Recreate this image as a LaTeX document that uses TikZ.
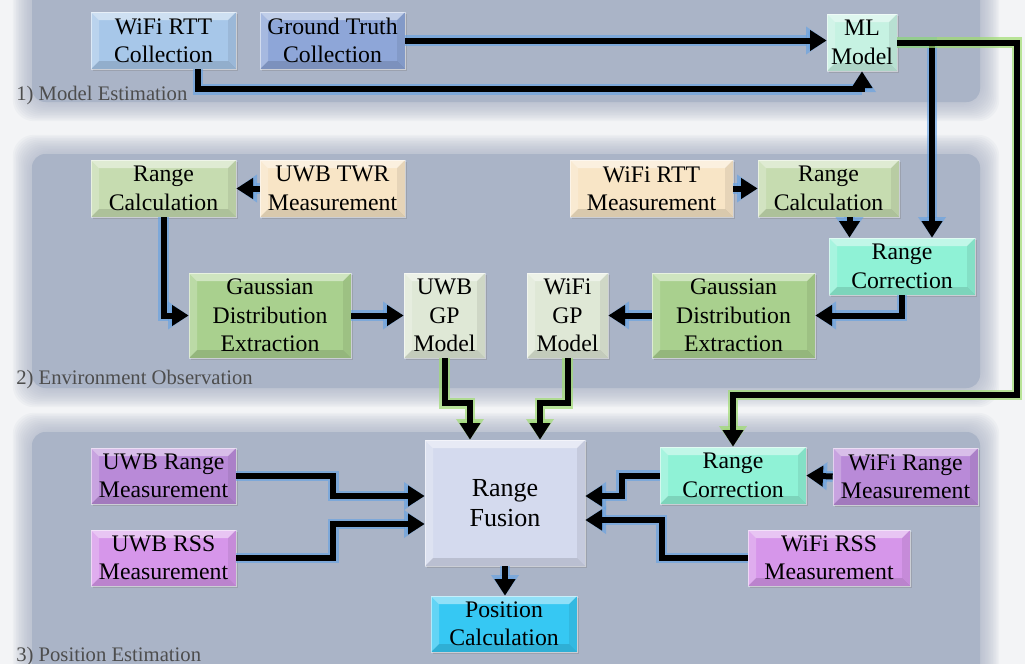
\documentclass[tikz,border=0pt]{standalone}
\usepackage{fontspec}
\setmainfont{Liberation Serif}
\usetikzlibrary{arrows.meta,calc,shadows}

\definecolor{bg}{HTML}{F3F4F6}
\definecolor{panel}{HTML}{AAB4C7}
\definecolor{labelgray}{HTML}{4D4D4D}
\definecolor{glowB}{HTML}{5FA0E6}
\definecolor{glowG}{HTML}{9FDC70}
\definecolor{cWRC}{HTML}{A7C7E9}
\definecolor{cGT}{HTML}{8EA6D8}
\definecolor{cML}{HTML}{C6F2E2}
\definecolor{cRC}{HTML}{C6DCB0}
\definecolor{cMeas}{HTML}{F8E5C6}
\definecolor{cGa}{HTML}{A9D08E}
\definecolor{cGP}{HTML}{DFE8D6}
\definecolor{cCorr}{HTML}{8FF2D6}
\definecolor{cRF}{HTML}{D4DAEE}
\definecolor{cPur}{HTML}{B98AD8}
\definecolor{cPink}{HTML}{D696EA}
\definecolor{cPos}{HTML}{36C8F3}

\tikzset{
  x=0.75pt, y=-0.75pt,
  bevel/.style={path picture={
    \coordinate (ppnw) at (path picture bounding box.north west);
    \coordinate (ppne) at (path picture bounding box.north east);
    \coordinate (ppsw) at (path picture bounding box.south west);
    \coordinate (ppse) at (path picture bounding box.south east);
    \fill[white,opacity=.45] (ppnw) -- (ppne) -- ([shift={(-6pt,-6pt)}]ppne) -- ([shift={(6pt,-6pt)}]ppnw) -- cycle;
    \fill[white,opacity=.22] (ppnw) -- ([shift={(6pt,-6pt)}]ppnw) -- ([shift={(6pt,6pt)}]ppsw) -- (ppsw) -- cycle;
    \fill[black,opacity=.07] (ppne) -- ([shift={(-6pt,-6pt)}]ppne) -- ([shift={(-6pt,6pt)}]ppse) -- (ppse) -- cycle;
    \fill[black,opacity=.12] (ppsw) -- ([shift={(6pt,6pt)}]ppsw) -- ([shift={(-6pt,6pt)}]ppse) -- (ppse) -- cycle;
  }},
  blk/.style={fill=#1, draw=white, draw opacity=.5, line width=.5pt, align=center, inner sep=0pt,
    font=\fontsize{17.8}{21.3}\selectfont,
    drop shadow={shadow xshift=1.3pt, shadow yshift=-1.3pt, opacity=.35}, bevel},
  arr/.style={line width=4.5pt, -{Triangle[width=15pt,length=12.5pt]},
    preaction={draw=glowB, line width=8pt, opacity=.6, -{Triangle[width=20pt,length=15.5pt]}}},
  arrG/.style={line width=4.5pt, -{Triangle[width=15pt,length=12.5pt]},
    preaction={draw=glowG, line width=8pt, opacity=.7, -{Triangle[width=20pt,length=15.5pt]}}},
  lbl/.style={anchor=base west, text=labelgray, font=\fontsize{15.5}{18}\selectfont, inner sep=0pt},
}

\newcommand\blk[7]{\node[blk=#6, minimum width={(#4-#2)*0.75pt}, minimum height={(#5-#3)*0.75pt}] (#1) at ({(#2+#4)/2},{(#3+#5)/2}) {#7};}
\newcommand\panelbox[4]{%
  \foreach \i in {12,11,...,1} {\fill[panel, opacity=0.09, rounded corners=16pt] (#1-\i*1.6, #2-\i*1.6) rectangle (#3+\i*1.6, #4+\i*1.6);}
  \fill[panel, rounded corners=10pt] (#1,#2) rectangle (#3,#4);}

\begin{document}
\begin{tikzpicture}
\useasboundingbox (0,0) rectangle (1025,664);
\clip (0,0) rectangle (1025,664);
\fill[bg] (0,0) rectangle (1025,664);

\panelbox{32}{-30}{980}{102}
\panelbox{32}{154}{980}{388}
\panelbox{32}{432}{980}{700}

\node[lbl] (l1) at (16,100) {1) Model Estimation};
\node[lbl] (l2) at (16,384) {2) Environment Observation};
\node[lbl] (l3) at (16,661) {3) Position Estimation};

\blk{wrc}{91}{12}{236}{69}{cWRC}{WiFi RTT\\Collection}
\blk{gt}{260}{12}{405}{69}{cGT}{Ground Truth\\Collection}
\blk{ml}{827}{14}{897}{71}{cML}{ML\\Model}
\blk{rcL}{91}{160}{236}{217}{cRC}{Range\\Calculation}
\blk{twr}{260}{160}{405}{217}{cMeas}{UWB TWR\\Measurement}
\blk{gL}{189}{273}{351}{358}{cGa}{Gaussian\\Distribution\\Extraction}
\blk{ugp}{404}{273}{485}{358}{cGP}{UWB\\GP\\Model}
\blk{wgp}{527}{273}{608}{358}{cGP}{WiFi\\GP\\Model}
\blk{gR}{652}{273}{815}{358}{cGa}{Gaussian\\Distribution\\Extraction}
\blk{wrtt}{570}{160}{733}{217}{cMeas}{WiFi RTT\\Measurement}
\blk{rcR}{758}{160}{899}{217}{cRC}{Range\\Calculation}
\blk{corr1}{829}{238}{975}{295}{cCorr}{Range\\Correction}
\node[blk=cRF, minimum width={160*0.75pt}, minimum height={126*0.75pt}, font=\fontsize{19.5}{23}\selectfont] (rf) at (505,503) {Range\\Fusion};
\blk{ur}{91}{448}{236}{504}{cPur}{UWB Range\\Measurement}
\blk{urss}{91}{530}{236}{586}{cPink}{UWB RSS\\Measurement}
\blk{pos}{431}{596}{577}{652}{cPos}{Position\\Calculation}
\blk{corr2}{660}{447}{806}{504}{cCorr}{Range\\Correction}
\blk{wr}{833}{448}{978}{505}{cPur}{WiFi Range\\Measurement}
\blk{wrss}{748}{530}{910}{586}{cPink}{WiFi RSS\\Measurement}

\coordinate (loopR) at (1017,395);

% panel 1
\draw[arr] (gt.east) -- (gt.east -| ml.west);
\draw[arr] ($(wrc.south)+(34.5,0)$) |- ($(ml.south)+(0,18)$) -- (ml.south);
\draw[arr] (ml.east) -| ($(corr1.north)+(30,0)$);
\draw[arrG] (ml.east) -| (loopR) -| (corr2.north);

% panel 2
\draw[arr] (twr.west) -- (rcL.east);
\draw[arr] (rcL.south) |- (gL.west);
\draw[arr] (gL.east) -- (ugp.west);
\draw[arr] (wrtt.east) -- (rcR.west);
\draw[arr] ($(rcR.south)+(21,0)$) coordinate (t) -- (t |- corr1.north);
\draw[arr] (corr1.south) |- (gR.east);
\draw[arr] (gR.west) -- (wgp.east);
\draw[arrG] (ugp.south) -- ++(0,45) -| ($(rf.north)+(-35,0)$);
\draw[arrG] (wgp.south) -- ++(0,45) -| ($(rf.north)+(35,0)$);

% panel 3
\draw[arr] (ur.east) -- ++(97,0) |- ($(rf.west)+(0,-7)$);
\draw[arr] (urss.east) -- ++(97,0) |- ($(rf.west)+(0,21)$);
\draw[arr] (rf.south) -- (rf.south |- pos.north);
\draw[arr] (wr.west) -- (corr2.east);
\draw[arr] (corr2.west) -- ++(-38,0) |- ($(rf.east)+(0,-7)$);
\draw[arr] (wrss.west) -- ++(-86,0) |- ($(rf.east)+(0,17)$);
\end{tikzpicture}
\end{document}
